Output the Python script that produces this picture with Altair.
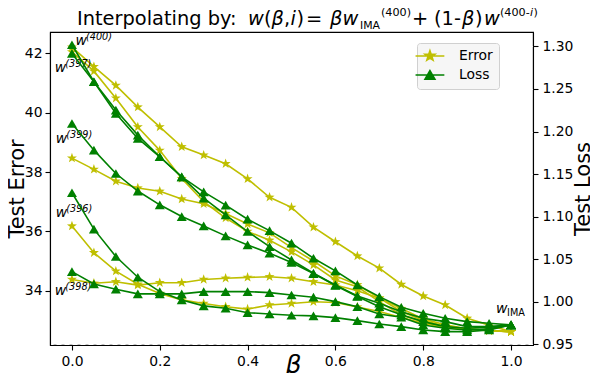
import math
import altair as alt
import pandas as pd

# ---------------- data ----------------
beta = [0.0, 0.05, 0.1, 0.15, 0.2, 0.25, 0.3, 0.35, 0.4, 0.45, 0.5,
        0.55, 0.6, 0.65, 0.7, 0.75, 0.8, 0.85, 0.9, 0.95, 1.0]
series = ["w400", "w399", "w398", "w397", "w396"]

error_w400 = [42.21, 41.55, 40.92, 40.19, 39.52, 38.85, 38.57, 38.28, 37.77, 37.15, 36.81,
              36.14, 35.65, 35.17, 34.76, 34.21, 33.82, 33.52, 33.07, 32.84, 32.62]
error_w399 = [38.47, 38.09, 37.69, 37.46, 37.35, 37.09, 36.93, 36.60, 36.25, 35.95, 35.45,
              35.00, 34.50, 34.20, 33.75, 33.30, 33.00, 32.80, 32.72, 32.66, 32.62]
error_w398 = [34.38, 34.25, 34.30, 34.19, 34.27, 34.27, 34.38, 34.42, 34.45, 34.47, 34.42,
              34.30, 34.19, 34.00, 33.75, 33.40, 33.05, 32.85, 32.72, 32.66, 32.62]
error_w397 = [42.05, 41.40, 40.49, 39.52, 38.73, 37.78, 37.00, 36.45, 36.00, 35.70, 35.31,
              34.87, 34.36, 34.13, 33.63, 33.18, 32.95, 32.75, 32.70, 32.66, 32.62]
error_w396 = [36.18, 35.28, 34.66, 34.22, 33.91, 33.69, 33.57, 33.46, 33.38, 33.52, 33.57,
              33.63, 33.60, 33.45, 33.30, 33.10, 32.90, 32.75, 32.70, 32.65, 32.62]

loss_w400 = [1.302, 1.2585, 1.2252, 1.1958, 1.1703, 1.1467, 1.129, 1.1135, 1.0969, 1.0835, 1.0687,
             1.051, 1.0361, 1.0196, 1.0059, 0.9934, 0.9863, 0.9804, 0.9765, 0.9745, 0.9726]
loss_w399 = [1.2094, 1.1781, 1.1506, 1.130, 1.1138, 1.100, 1.089, 1.0773, 1.0667, 1.057, 1.046,
             1.033, 1.019, 1.006, 0.9941, 0.9845, 0.9765, 0.9706, 0.9687, 0.970, 0.9726]
loss_w398 = [1.0353, 1.0208, 1.0146, 1.0091, 1.0091, 1.0091, 1.0118, 1.0118, 1.0118, 1.0106, 1.0078,
             1.0052, 1.000, 0.994, 0.9855, 0.9816, 0.9725, 0.9687, 0.9667, 0.968, 0.9726]
loss_w397 = [1.2918, 1.2585, 1.2212, 1.1918, 1.1703, 1.1467, 1.1216, 1.102, 1.0824, 1.0647, 1.049,
             1.0334, 1.0196, 1.0067, 0.9981, 0.9882, 0.9804, 0.9765, 0.9706, 0.9706, 0.9726]
loss_w396 = [1.128, 1.0852, 1.053, 1.0287, 1.0118, 1.002, 0.995, 0.9922, 0.987, 0.9855, 0.984,
             0.9832, 0.9812, 0.9777, 0.9737, 0.9706, 0.9667, 0.9647, 0.9647, 0.9667, 0.9726]

x_ticks = [0.0, 0.2, 0.4, 0.6, 0.8, 1.0]
error_ticks = [34, 36, 38, 40, 42]
loss_ticks = [0.95, 1.00, 1.05, 1.10, 1.15, 1.20, 1.25, 1.30]

# annotation labels: superscript text and its anchor (beta, test error) in data coordinates
ann_labels = ["(400)", "(397)", "(399)", "(396)", "(398)"]
ann_beta = [0.008, -0.039, -0.037, -0.037, -0.039]
ann_error = [42.28, 41.37, 38.97, 36.49, 33.85]
ima_beta = [0.966]
ima_error = [33.26]

legend_names = ["Error", "Loss"]

# ---------------- tables ----------------
err_vals = [error_w400, error_w399, error_w398, error_w397, error_w396]
loss_vals = [loss_w400, loss_w399, loss_w398, loss_w397, loss_w396]
df_err = pd.DataFrame([
    {"beta": b, "series": s, "value": v}
    for s, vals in zip(series, err_vals) for b, v in zip(beta, vals)
])
df_loss = pd.DataFrame([
    {"beta": b, "series": s, "value": v}
    for s, vals in zip(series, loss_vals) for b, v in zip(beta, vals)
])
df_ann = pd.DataFrame({"beta": ann_beta, "value": ann_error, "sup": ann_labels})
df_ima = pd.DataFrame({"beta": ima_beta, "value": ima_error})
df_leg = pd.DataFrame({"metric": legend_names})

# ---------------- styles ----------------
YEL = "#bfbf00"
GRN = "#008000"
FONT = "DejaVu Sans"


def star_path(scale=1.0, inner=0.4):
    pts = []
    for k in range(10):
        a = -math.pi / 2 + k * math.pi / 5
        r = scale if k % 2 == 0 else scale * inner
        pts.append(f"{r * math.cos(a):.3f},{r * math.sin(a):.3f}")
    return "M" + "L".join(pts) + "Z"


STAR = star_path()
LEG_STAR = "M-3.2,0L3.2,0" + star_path(1.15)
LEG_TRI = "M-3.2,0L3.2,0M0,-0.95L1.1,0.95L-1.1,0.95Z"

x_enc = alt.X("beta:Q", scale=alt.Scale(domain=[-0.05, 1.05], nice=False, zero=False),
              axis=alt.Axis(values=x_ticks, format=".1f", grid=False, title="β",
                            titleFontStyle="italic", labelPadding=4,
                            titleX=243, titleY=27, titleAlign="center",
                            titleBaseline="alphabetic"))
err_scale = alt.Scale(domain=[32.17, 42.72], nice=False, zero=False)
loss_scale = alt.Scale(domain=[0.949, 1.317], nice=False, zero=False)

err_line = alt.Chart(df_err).mark_line(
    color=YEL, strokeWidth=1.6,
    point=alt.OverlayMarkDef(shape=STAR, filled=True, size=110, color=YEL, opacity=1)
).encode(
    x=x_enc,
    y=alt.Y("value:Q", scale=err_scale,
            axis=alt.Axis(values=error_ticks, format="d", grid=False, title="Test Error",
                          labelPadding=3, titleFontSize=21, titleAngle=270,
                          titleX=-26.5, titleY=156.5, titleAlign="center",
                          titleBaseline="alphabetic")),
    detail="series:N",
)

ann_w = alt.Chart(df_ann).mark_text(
    text="w", font=FONT, fontSize=14, fontStyle="italic", align="left",
    baseline="alphabetic", color="black"
).encode(x="beta:Q", y="value:Q")
ann_sup = alt.Chart(df_ann).mark_text(
    font=FONT, fontSize=9.7, fontStyle="italic", align="left",
    baseline="alphabetic", color="black", dx=10.5, dy=-5
).encode(x="beta:Q", y="value:Q", text="sup:N")
ima_w = alt.Chart(df_ima).mark_text(
    text="w", font=FONT, fontSize=14, fontStyle="italic", align="left",
    baseline="alphabetic", color="black"
).encode(x="beta:Q", y="value:Q")
ima_sub = alt.Chart(df_ima).mark_text(
    text="IMA", font=FONT, fontSize=9.7, align="left",
    baseline="alphabetic", color="black", dx=11, dy=3
).encode(x="beta:Q", y="value:Q")

err_group = alt.layer(err_line, ann_w, ann_sup, ima_w, ima_sub)

loss_line = alt.Chart(df_loss).mark_line(
    color=GRN, strokeWidth=1.6,
    point=alt.OverlayMarkDef(shape="triangle-up", filled=True, size=100, color=GRN, opacity=1)
).encode(
    x=x_enc,
    y=alt.Y("value:Q", scale=loss_scale,
            axis=alt.Axis(values=loss_ticks, format=".2f", grid=True, orient="right",
                          gridColor="white", gridDash=[5, 3], gridWidth=1.1,
                          title="Test Loss", labelPadding=4, titleAngle=270,
                          titleFontSize=21,
                          titleX=56.8, titleY=156.5, titleAlign="center",
                          titleBaseline="alphabetic")),
    detail="series:N",
)

leg = alt.Legend(orient="none", legendX=367, legendY=11, title=None,
                 fillColor="#f6f6f6", strokeColor="#d0d0d0", cornerRadius=3,
                 padding=6, labelFont=FONT, labelFontSize=13.9, labelColor="black",
                 symbolSize=81, symbolStrokeWidth=1.6, symbolOpacity=1,
                 labelOffset=22, rowPadding=3)
legend_layer = alt.Chart(df_leg).transform_filter("false").mark_point(
    filled=True, strokeWidth=1.6, opacity=1
).encode(
    fill=alt.Fill("metric:N", scale=alt.Scale(domain=legend_names, range=[YEL, GRN]), legend=leg),
    stroke=alt.Stroke("metric:N", scale=alt.Scale(domain=legend_names, range=[YEL, GRN]), legend=leg),
    shape=alt.Shape("metric:N", scale=alt.Scale(domain=legend_names, range=[LEG_STAR, LEG_TRI]), legend=leg),
)

# ---------------- title made of styled pieces (page px -> plot px) ----------------
OX, OY = 50, 32
TS = 19.4
SS = 11.2
title_pieces = [
    ("Interpolating by: ", 77, 25, TS, "normal"),
    ("w", 248, 25, TS, "italic"),
    ("(", 264, 25, TS, "normal"),
    ("β", 271.5, 25, TS, "italic"),
    (",", 284, 25, TS, "normal"),
    ("i", 290.5, 25, TS, "italic"),
    (")", 296.5, 25, TS, "normal"),
    ("=", 306, 25, TS, "normal"),
    ("β", 330, 25, TS, "italic"),
    ("w", 342.5, 25, TS, "italic"),
    ("IMA", 360, 29, 10.9, "normal"),
    ("(400)", 381, 16, SS, "normal"),
    ("+", 412, 25, TS, "normal"),
    ("(1-", 434, 25, TS, "normal"),
    ("β", 462, 25, TS, "italic"),
    (")", 475, 25, TS, "normal"),
    ("w", 484, 25, TS, "italic"),
    ("(400-", 500, 16, SS, "normal"),
    ("i", 530, 16, SS, "italic"),
    (")", 533.5, 16, SS, "normal"),
]
one = pd.DataFrame({"d": [0]})
title_layers = [
    alt.Chart(one).mark_text(text=t, font=FONT, fontSize=fs, fontStyle=st, align="left",
                             baseline="alphabetic", color="black")
    .encode(x=alt.value(px - OX), y=alt.value(py - OY))
    for t, px, py, fs, st in title_pieces
]

chart = alt.layer(
    err_group, loss_line, legend_layer, *title_layers
).resolve_scale(y="independent").properties(
    width=483, height=313,
    padding={"left": 42, "top": 24, "right": 57, "bottom": 28},
    autosize=alt.AutoSizeParams(type="none"),
).configure_view(
    fill="#d3d3d3", stroke="black", strokeWidth=1.1
).configure_axis(
    labelFont=FONT, titleFont=FONT, labelFontSize=13.9, titleFontSize=25,
    titleFontWeight="normal", labelColor="black", titleColor="black",
    tickColor="black", domainColor="black", tickSize=5, tickWidth=1.1, domainWidth=1.1,
)

chart.save("out.html", embed_options={"renderer": "svg", "actions": False})
